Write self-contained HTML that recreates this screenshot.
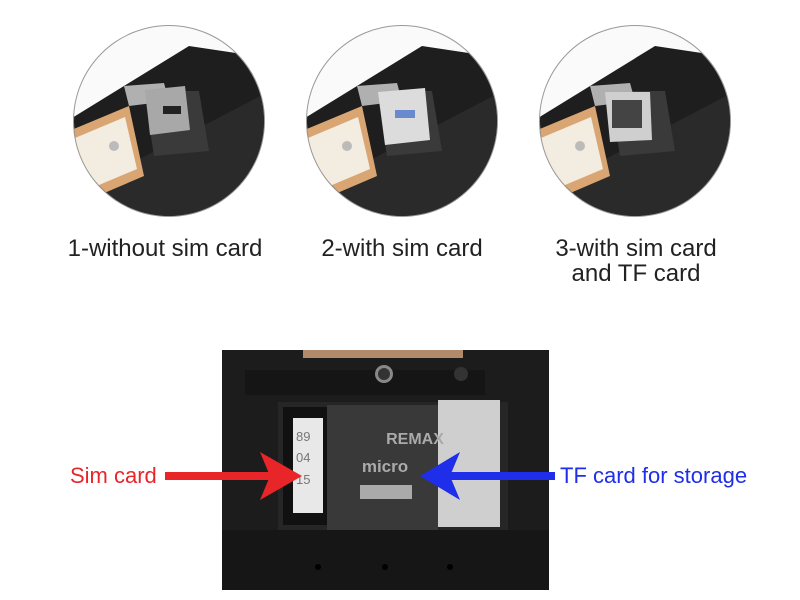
<!DOCTYPE html>
<html><head><meta charset="utf-8"><style>
html,body{margin:0;padding:0;background:#fff;width:800px;height:600px;overflow:hidden}
svg{display:block}
text{font-family:"Liberation Sans",sans-serif}
</style></head><body>
<svg width="800" height="600" viewBox="0 0 800 600" xmlns="http://www.w3.org/2000/svg">
<defs>
<clipPath id="c1"><circle cx="169" cy="121" r="95"/></clipPath>
<clipPath id="c2"><circle cx="402" cy="121" r="95"/></clipPath>
<clipPath id="c3"><circle cx="635" cy="121" r="95"/></clipPath>
<g id="dev">
<rect x="-120" y="-120" width="240" height="240" fill="#fafafa"/>
<polygon points="-110,75 -110,5 20,-75 120,-60 120,120 -110,120" fill="#1e1e1e"/>
<polygon points="-110,80 120,-40 120,120 -110,120" fill="#2a2a2a"/>
<polygon points="-25,-30 30,-30 40,30 -15,35" fill="#3a3a3a"/>
<polygon points="-45,-35 -5,-38 0,-20 -40,-15" fill="#b0b0b0"/>
<polygon points="-100,10 -40,-15 -25,55 -95,85" fill="#d9a673"/>
<polygon points="-94,17 -44,-4 -32,48 -89,72" fill="#f3ece0"/>
<circle cx="-55" cy="25" r="5" fill="#bbb"/>
</g>
</defs>
<circle cx="169" cy="121" r="96" fill="#999"/>
<circle cx="402" cy="121" r="96" fill="#999"/>
<circle cx="635" cy="121" r="96" fill="#999"/>
<g clip-path="url(#c1)"><use href="#dev" x="169" y="121"/>
<polygon points="145,90 185,86 190,130 150,135" fill="#a8a8a8"/><rect x="163" y="106" width="18" height="8" fill="#222"/></g>
<g clip-path="url(#c2)"><use href="#dev" x="402" y="121"/>
<polygon points="378,92 425,88 430,140 385,145" fill="#dcdcdc"/><rect x="395" y="110" width="20" height="8" fill="#6a8ad0"/></g>
<g clip-path="url(#c3)"><use href="#dev" x="635" y="121"/>
<polygon points="605,92 650,92 652,140 610,142" fill="#cfcfcf"/><rect x="612" y="100" width="30" height="28" fill="#444"/></g>

<text x="165" y="256" font-size="24" fill="#222" text-anchor="middle">1-without sim card</text>
<text x="402" y="256" font-size="24" fill="#222" text-anchor="middle">2-with sim card</text>
<text x="636" y="256" font-size="24" fill="#222" text-anchor="middle">3-with sim card</text>
<text x="636" y="281" font-size="24" fill="#222" text-anchor="middle">and TF card</text>

<rect x="222" y="350" width="327" height="240" fill="#1c1c1c"/>
<rect x="303" y="350" width="160" height="8" fill="#b08a6a"/>
<rect x="245" y="370" width="240" height="25" fill="#151515"/>
<circle cx="384" cy="374" r="9" fill="#888"/><circle cx="384" cy="374" r="6" fill="#333"/>
<circle cx="461" cy="374" r="7" fill="#333"/>
<rect x="278" y="402" width="230" height="128" fill="#262626"/>
<rect x="283" y="407" width="44" height="118" fill="#111"/>
<rect x="293" y="418" width="30" height="95" fill="#e8e8e8"/>
<text x="296" y="441" font-size="13" fill="#777" font-family="Liberation Mono">89</text>
<text x="296" y="462" font-size="13" fill="#777" font-family="Liberation Mono">04</text>
<text x="296" y="484" font-size="13" fill="#777" font-family="Liberation Mono">15</text>
<rect x="438" y="400" width="62" height="127" fill="#cfcfcf"/>
<rect x="327" y="405" width="111" height="127" fill="#393939"/>
<text x="415" y="444" font-size="16" font-weight="bold" fill="#aaa" text-anchor="middle">REMAX</text>
<text x="385" y="472" font-size="17" font-weight="bold" fill="#aaa" text-anchor="middle">micro</text>
<rect x="360" y="485" width="52" height="14" fill="#aaa"/>
<rect x="222" y="530" width="327" height="60" fill="#161616"/>
<circle cx="318" cy="567" r="3" fill="#000"/><circle cx="385" cy="567" r="3" fill="#000"/><circle cx="450" cy="567" r="3" fill="#000"/>

<rect x="165" y="472" width="105" height="8" fill="#e8262a"/>
<polygon points="302,476 260,452 270,476 260,500" fill="#e8262a"/>
<text x="70" y="483" font-size="22" fill="#e8262a">Sim card</text>
<rect x="445" y="472" width="110" height="8" fill="#1f2ee8"/>
<polygon points="420,476 460,452 450,476 460,500" fill="#1f2ee8"/>
<text x="560" y="483" font-size="22" fill="#1f2ee8">TF card for storage</text>
</svg>
</body></html>
